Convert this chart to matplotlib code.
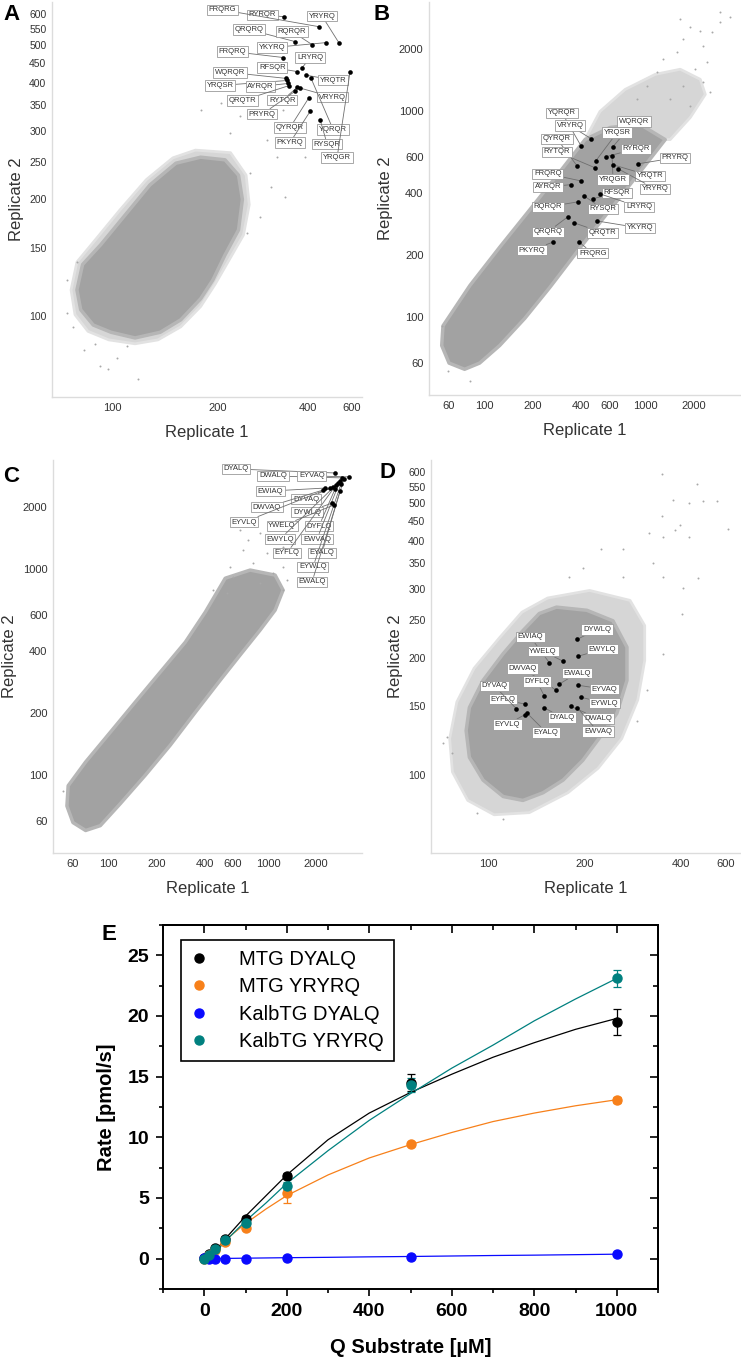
import numpy as np
import matplotlib
matplotlib.use('Agg')
import matplotlib.pyplot as plt
from matplotlib.patches import Polygon
from matplotlib.ticker import MultipleLocator, NullLocator

plt.rcParams['font.family'] = ['Liberation Sans', 'DejaVu Sans']

# ---------------- Panel A (RQ library, MTG) ----------------
A_cloud_x = [179, 212, 235, 242, 235, 212, 194, 179, 157, 137, 116, 99, 88, 81, 79, 82, 92.5, 109, 128, 152]
A_cloud_y = [257, 253, 231, 200, 167, 144, 124, 111, 98, 91, 88, 91, 95, 104, 117, 136, 153, 183, 218, 248]
A_halo_x = [173, 221, 249, 255, 244, 219, 197, 179, 157, 135, 116, 97.5, 85, 78, 76, 79, 89, 105, 125, 149]
A_halo_y = [268, 264, 231, 194, 162, 140, 121, 106, 94, 87, 85, 87, 91.5, 101, 117, 138, 157, 188, 225, 256]
A_sparse_x = [205, 179, 238, 221, 271, 293, 341, 257, 300, 336, 277, 251, 377, 391, 316, 226, 271, 331,
              74, 77, 92, 97, 118, 83, 103, 110, 74, 79, 89]
A_sparse_y = [354, 340, 329, 297, 326, 284, 273, 234, 215, 203, 180, 164, 284, 257, 257, 360, 360, 340,
              102, 94, 74.5, 73, 69, 82, 78, 84, 124, 138, 85]
A_names = ['RYRQR', 'FRQRG', 'YRYRQ', 'QRQRQ', 'RQRQR', 'YKYRQ', 'FRQRQ', 'LRYRQ', 'RFSQR', 'WQRQR', 'YRQSR',
           'AYRQR', 'QRQTR', 'RYTQR', 'PRYRQ', 'YRQTR', 'VRYRQ', 'QYRQR', 'PKYRQ', 'YQRQR', 'RYSQR', 'YRQGR']
A_hit_x = [333, 444, 536, 362, 415, 474, 331, 382, 368, 338, 341, 344, 346, 368, 362, 394, 377, 403, 407, 411, 448, 594]
A_hit_y = [591, 557, 505, 510, 501, 507, 464, 437, 427, 410, 405, 398, 393, 389, 380, 418, 387, 366, 337, 410, 320, 427]
A_lab_dx = [-22, -97, -17, -46, -20, -54, -51, 8, -25, -56, -67, -28, -47, -15, -33, 27, 32, -19, -20, 22, 7, -13]
A_lab_dy = [-2, -17, -27, -12, -13, 5, -6, -10, -4, -6, 5, 3, 15, 13, 23, 5, 9, 30, 31, 51, 24, 86]

# ---------------- Panel B (RQ library, KalbTG) ----------------
B_cloud_x = [422, 604, 930, 1334, 930, 604, 392, 255, 178, 124, 93, 75, 60, 54, 55, 81, 124, 191, 294]
B_cloud_y = [730, 836, 865, 730, 509, 333, 217, 140, 99, 73, 60, 56, 60, 73, 91, 143, 219, 333, 509]
B_halo_x = [422, 523, 750, 1155, 1655, 2207, 2371, 1911, 1432]
B_halo_y = [730, 1000, 1279, 1514, 1603, 1432, 1210, 935, 730]
B_sparse_x = [3396, 2943, 2625, 2207, 1911, 2305, 1728, 1585, 2441, 2054, 1296, 1189, 2305, 1728, 2547, 1029,
              1432, 1911, 891, 2943, 1655, 54, 59, 81]
B_sparse_y = [2877, 2718, 2427, 2455, 2570, 2075, 2244, 1941, 1733, 1603, 1794, 1549, 1384, 1324, 1240, 1324,
              1146, 1058, 1146, 3040, 2812, 91, 55, 49]
B_names = ['YQRQR', 'VRYRQ', 'WQRQR', 'QYRQR', 'YRQSR', 'RYTQR', 'RYRQR', 'PRYRQ', 'YRQTR', 'YRYRQ', 'YRQGR',
           'FRQRQ', 'AYRQR', 'RFSQR', 'LRYRQ', 'RYSQR', 'RQRQR', 'YKYRQ', 'QRQRQ', 'QRQTR', 'PKYRQ', 'FRQRG']
B_hit_x = [398, 460, 631, 376, 494, 487, 570, 904, 631, 678, 622, 398, 345, 473, 523, 416, 381, 501, 330, 360, 266, 387]
B_hit_y = [682, 738, 675, 545, 577, 533, 603, 557, 551, 527, 610, 460, 441, 377, 398, 389, 364, 294, 308, 288, 232, 232]
B_lab_dx = [-19, -21, 21, -20, 21, -38, 30, 37, 37, 37, 1, -33, -23, 24, 39, 19, -30, 43, -20, 29, -21, 14]
B_lab_dy = [-33, -13, -25, -27, -28, -16, -8, -6, 11, 20, 24, -7, 2, -6, 13, 13, 5, 7, 15, 10, 8, 11]

# ---------------- Panel C (LQ library, MTG) ----------------
C_cloud_x = [539, 772, 1106, 1241, 1106, 891, 668, 501, 350, 244, 170, 119, 89, 72, 60, 55, 56, 72, 103, 147, 211, 303, 404]
C_cloud_y = [903, 989, 935, 791, 632, 506, 383, 289, 202, 140, 100, 73, 57, 54, 59, 71, 89, 116, 162, 226, 316, 442, 618]
C_sparse_x = [453, 604, 805, 891, 1075, 1241, 698, 986, 554, 750, 579, 1241, 1315, 891, 668, 1241, 52]
C_sparse_y = [791, 914, 1069, 855, 957, 791, 1236, 1197, 764, 1383, 1023, 1023, 885, 1496, 1545, 1279, 84]
C_names = ['DYALQ', 'DWALQ', 'EYVAQ', 'EWIAQ', 'DYVAQ', 'DWVAQ', 'DYWLQ', 'EYVLQ', 'YWELQ', 'DYFLQ', 'EWYLQ',
           'EWVAQ', 'EYFLQ', 'EYALQ', 'EYWLQ', 'EWALQ']
C_hit_x = [2623, 2900, 3206, 2271, 2547, 2207, 2512, 2441, 2585, 2623, 2738, 2818, 2661, 2818, 2858, 2985]
C_hit_y = [2924, 2767, 2799, 2471, 2500, 2416, 2089, 2471, 2046, 2444, 2613, 2673, 2558, 2392, 2586, 2735]
C_lab_dx = [-99, -69, -37, -55, -27, -56, -25, -86, -52, -16, -58, -23, -49, -18, -28, -32]
C_lab_dy = [-4, -2, -1, 3, 12, 17, 9, 34, 21, 37, 56, 58, 68, 62, 83, 103]

# ---------------- Panel D (LQ library, KalbTG) ----------------
D_cloud_x = [163, 203, 245, 271, 271, 252, 223, 197, 171, 148, 128, 111, 96, 87, 85, 87, 96, 111, 128, 144]
D_cloud_y = [270, 265, 249, 213, 175, 144, 125, 109, 97, 90, 86, 88, 97, 111, 130, 149, 175, 205, 235, 260]
D_halo_x = [153, 207, 277, 308, 308, 293, 261, 220, 177, 134, 104, 86, 77, 75.5, 79.5, 90, 108, 127]
D_halo_y = [285, 298, 281, 242, 197, 156, 124, 104, 90, 80, 79, 86, 101.8, 124, 154, 188, 225, 262]
D_sparse_x = [348, 462, 378, 488, 553, 430, 348, 611, 397, 383, 318, 430, 351, 224, 263, 466, 407, 197, 327,
              263, 351, 179, 403, 351, 313, 291, 74, 77, 72, 92, 111]
D_sparse_y = [594, 561, 510, 507, 505, 501, 464, 430, 440, 427, 418, 408, 408, 382, 380, 320, 303, 341, 350,
              322, 322, 322, 260, 205, 165, 138, 125, 114, 121, 80, 77]
D_names = ['DYWLQ', 'EWYLQ', 'EWIAQ', 'YWELQ', 'EWALQ', 'DWVAQ', 'EYVAQ', 'DYFLQ', 'EYWLQ', 'EYFLQ', 'DYVAQ',
           'DYALQ', 'DWALQ', 'EWVAQ', 'EYVLQ', 'EYALQ']
D_hit_x = [189, 191, 155, 171, 166, 163, 191, 149, 194, 130, 122, 149, 181, 189, 130, 132]
D_hit_y = [223, 202, 194, 196, 171, 165, 170, 160, 158.5, 152, 148, 149, 150, 149, 143, 144]
D_lab_dx = [20, 24, -19, -20, 18, -34, 26, -7, 24, -22, -22, 18, 27, 21, -18, 19]
D_lab_dy = [-10, -7, -26, -10, -11, -22, 4, -14, 6, -5, -23, 10, 12, 24, 10, 19]

# ---------------- Panel E (kinetics) ----------------
conc = [0, 12.5, 25, 50, 100, 200, 500, 1000]
mtg_dyalq = [0.05, 0.35, 0.9, 1.65, 3.3, 6.8, 14.5, 19.5]
mtg_dyalq_err = [0.05, 0.1, 0.15, 0.15, 0.2, 0.25, 0.7, 1.1]
mtg_yryrq = [0.0, 0.3, 0.7, 1.35, 2.55, 5.4, 9.45, 13.05]
mtg_yryrq_err = [0.05, 0.1, 0.1, 0.15, 0.2, 0.8, 0.2, 0.25]
kalb_dyalq = [0.03, 0.0, 0.0, 0.0, -0.05, 0.05, 0.17, 0.37]
kalb_dyalq_err = [0.05, 0.05, 0.05, 0.05, 0.05, 0.05, 0.08, 0.1]
kalb_yryrq = [0.0, 0.3, 0.8, 1.55, 2.95, 6.0, 14.3, 23.1]
kalb_yryrq_err = [0.05, 0.1, 0.1, 0.15, 0.2, 0.3, 0.6, 0.7]

fit_x = [0, 25, 50, 100, 150, 200, 300, 400, 500, 600, 700, 800, 900, 1000]
fit_mtg_dyalq = [0, 0.55, 1.6, 3.5, 5.2, 6.9, 9.8, 12.0, 13.7, 15.2, 16.6, 17.8, 18.9, 19.8]
fit_mtg_yryrq = [0, 0.6, 1.5, 2.9, 4.1, 5.2, 6.9, 8.3, 9.4, 10.4, 11.3, 12.0, 12.6, 13.1]
fit_kalb_dyalq = [0, 0.01, 0.02, 0.04, 0.06, 0.08, 0.11, 0.15, 0.18, 0.22, 0.26, 0.29, 0.33, 0.37]
fit_kalb_yryrq = [0, 0.45, 1.4, 3.1, 4.6, 6.2, 8.9, 11.4, 13.6, 15.7, 17.6, 19.6, 21.4, 23.1]

W, H = 741, 1358
fig = plt.figure(figsize=(W / 100, H / 100), dpi=100)


def box(l, t, r, b):
    return [l / W, 1 - b / H, (r - l) / W, (b - t) / H]


def log_interp_x(ax, ticks, pos):
    # the A/D x axis is compressed at the top end, so map tick values to their drawn positions
    lt = np.log10(ticks)

    def fwd(v):
        return np.interp(np.log10(np.clip(v, 1e-6, None)), lt, pos)

    def inv(p):
        return 10 ** np.interp(p, pos, lt)
    ax.set_xscale('function', functions=(fwd, inv))


def scatter_panel(ax, cx, cy, hx, hy, sx, sy, names, px, py, dx, dy,
                  xlim, ylim, xticks, yticks, ysize):
    if hx is not None:
        ax.add_patch(Polygon(np.column_stack([hx, hy]), closed=True, fc='#d6d6d6', ec='#e2e2e2',
                             lw=2, joinstyle='round', zorder=1))
    ax.add_patch(Polygon(np.column_stack([cx, cy]), closed=True, fc='#a2a2a2', ec='#b6b6b6',
                         lw=2.5, joinstyle='round', zorder=2))
    ax.scatter(sx, sy, s=2, color='#a8a8a8', lw=0, zorder=2)
    for n, x, y, ox, oy in zip(names, px, py, dx, dy):
        ax.annotate(n, xy=(x, y), xytext=(ox, -oy), textcoords='offset pixels',
                    ha='center', va='center', fontsize=5.5, color='#333333', zorder=5,
                    bbox=dict(boxstyle='square,pad=0.22', fc='white', ec='#9a9a9a', lw=0.6),
                    arrowprops=dict(arrowstyle='-', color='#6f6f6f', lw=0.6, shrinkA=0, shrinkB=0))
    ax.scatter(px, py, s=11, color='black', lw=0, zorder=6)

    ax.set_yscale('log')
    ax.set_xlim(*xlim)
    ax.set_ylim(*ylim)
    ax.set_xticks(xticks)
    ax.set_xticklabels([str(t) for t in xticks])
    ax.set_yticks(yticks)
    ax.set_yticklabels([str(t) for t in yticks])
    ax.xaxis.set_minor_locator(NullLocator())
    ax.yaxis.set_minor_locator(NullLocator())
    ax.tick_params(axis='x', length=0, labelsize=8, colors='#333333', pad=4)
    ax.tick_params(axis='y', length=0, labelsize=ysize, colors='#333333', pad=4)
    for s in ['top', 'right']:
        ax.spines[s].set_visible(False)
    for s in ['left', 'bottom']:
        ax.spines[s].set_color('#dcdcdc')
        ax.spines[s].set_linewidth(1)
    ax.set_xlabel('Replicate 1', fontsize=12, color='#333333', labelpad=9)
    ax.set_ylabel('Replicate 2', fontsize=12, color='#333333', labelpad=4)


lin_ticks = [100, 150, 200, 250, 300, 350, 400, 450, 500, 550, 600]
log_ticks = [60, 100, 200, 400, 600, 1000, 2000]
anchor_vals = [30, 100, 200, 400, 600, 1000]

axA = fig.add_axes(box(52, 2, 362, 397))
log_interp_x(axA, anchor_vals, [-70.5, 112, 217, 308, 351, 405])
scatter_panel(axA, A_cloud_x, A_cloud_y, A_halo_x, A_halo_y, A_sparse_x, A_sparse_y,
              A_names, A_hit_x, A_hit_y, A_lab_dx, A_lab_dy,
              (67, 665), (62, 645), [100, 200, 400, 600], lin_ticks, 7.5)

axB = fig.add_axes(box(429, 2, 740, 395))
axB.set_xscale('log')
scatter_panel(axB, B_cloud_x, B_cloud_y, B_halo_x, B_halo_y, B_sparse_x, B_sparse_y,
              B_names, B_hit_x, B_hit_y, B_lab_dx, B_lab_dy,
              (45, 3900), (42, 3400), log_ticks, log_ticks, 8)

axC = fig.add_axes(box(53, 460, 362, 853))
axC.set_xscale('log')
scatter_panel(axC, C_cloud_x, C_cloud_y, None, None, C_sparse_x, C_sparse_y,
              C_names, C_hit_x, C_hit_y, C_lab_dx, C_lab_dy,
              (45, 3870), (42, 3380), log_ticks, log_ticks, 8)

axD = fig.add_axes(box(431, 460, 740, 853))
log_interp_x(axD, anchor_vals, [322, 489, 585, 681, 726, 783])
scatter_panel(axD, D_cloud_x, D_cloud_y, D_halo_x, D_halo_y, D_sparse_x, D_sparse_y,
              D_names, D_hit_x, D_hit_y, D_lab_dx, D_lab_dy,
              (66, 680), (63, 645), [100, 200, 400, 600], lin_ticks, 7.5)

for letter, x, y in [('A', 12, 14), ('B', 382, 14), ('C', 11, 476), ('D', 388, 473)]:
    fig.text(x / W, 1 - y / H, letter, fontsize=16, fontweight='bold', ha='center', va='center')

# ---------------- Panel E ----------------
axE = fig.add_axes(box(163, 925, 658, 1289))
series = [
    ('MTG DYALQ', '#000000', mtg_dyalq, mtg_dyalq_err, fit_mtg_dyalq),
    ('MTG YRYRQ', '#f7801a', mtg_yryrq, mtg_yryrq_err, fit_mtg_yryrq),
    ('KalbTG DYALQ', '#0a0aff', kalb_dyalq, kalb_dyalq_err, fit_kalb_dyalq),
    ('KalbTG YRYRQ', '#00807f', kalb_yryrq, kalb_yryrq_err, fit_kalb_yryrq),
]
for name, col, vals, err, fit in series:
    axE.plot(fit_x, fit, color=col, lw=0.9, zorder=2)
    axE.errorbar(conc, vals, yerr=err, fmt='none', ecolor=col, elinewidth=0.9,
                 capsize=3, capthick=0.9, zorder=3)
    axE.plot(conc, vals, 'o', color=col, ms=6.5, mec=col, label=name, zorder=4)

axE.set_xlim(-100, 1100)
axE.set_ylim(-2.5, 27.5)
xt = [0, 200, 400, 600, 800, 1000]
yt = [0, 5, 10, 15, 20, 25]
axE.set_xticks(xt)
axE.set_xticklabels([str(v) for v in xt], fontsize=14, fontweight='bold')
axE.set_yticks(yt)
axE.set_yticklabels([str(v) for v in yt], fontsize=14, fontweight='bold')
axE.xaxis.set_minor_locator(MultipleLocator(100))
axE.yaxis.set_minor_locator(MultipleLocator(2.5))
axE.tick_params(which='both', direction='out', width=1.2)
axE.tick_params(which='major', length=5, pad=5)
axE.tick_params(which='minor', length=3)
for s in axE.spines.values():
    s.set_linewidth(1.4)

topx = axE.secondary_xaxis('top')
topx.xaxis.set_major_locator(MultipleLocator(200))
topx.xaxis.set_minor_locator(MultipleLocator(100))
topx.tick_params(which='both', direction='in', labeltop=False, width=1.2)
topx.tick_params(which='major', length=6)
topx.tick_params(which='minor', length=3.5)
topx.spines['top'].set_linewidth(1.4)
righty = axE.secondary_yaxis('right')
righty.yaxis.set_major_locator(MultipleLocator(5))
righty.yaxis.set_minor_locator(MultipleLocator(2.5))
righty.tick_params(which='both', direction='in', labelright=False, width=1.2)
righty.tick_params(which='major', length=6)
righty.tick_params(which='minor', length=3.5)
righty.spines['right'].set_linewidth(1.4)

axE.set_xlabel('Q Substrate [µM]', fontsize=14.5, fontweight='bold', labelpad=13)
axE.set_ylabel('Rate [pmol/s]', fontsize=14.5, fontweight='bold', labelpad=8)

leg = axE.legend(loc='upper left', bbox_to_anchor=(0.036, 0.959), fancybox=False,
                 edgecolor='black', framealpha=1, fontsize=14.5, handlelength=0.8,
                 handletextpad=1.6, borderpad=0.5, labelspacing=0.42, borderaxespad=0,
                 numpoints=1)
leg.get_frame().set_linewidth(1.2)

fig.text(109 / W, 1 - 935 / H, 'E', fontsize=16, fontweight='bold', ha='center', va='center')

fig.savefig('out.png', dpi=100)
